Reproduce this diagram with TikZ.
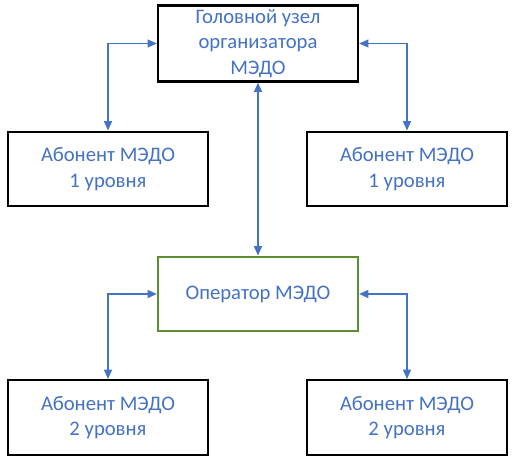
\documentclass[tikz,border=0pt]{standalone}
\usepackage{fontspec}
\setmainfont{Carlito}
\usetikzlibrary{arrows.meta}
\definecolor{txtblue}{HTML}{4472C4}
\definecolor{boxgreen}{HTML}{5E8E32}
\begin{document}
\begin{tikzpicture}[x=0.75pt,y=-0.75pt,
    box/.style={draw=black,line width=1.7pt,minimum width=150pt,minimum height=56pt,
      align=center,text=txtblue,font=\fontsize{15.5}{19}\selectfont,inner sep=0pt},
    link/.style={draw=txtblue,line width=1pt,{Triangle[length=7pt,width=6pt]}-{Triangle[length=7pt,width=6pt]}}]
         \useasboundingbox (0,0) rectangle (515,460) ;
         % main node and operator
         \node[box,minimum height=57pt] (head) at (258,43.5) {Головной узел\\организатора\\МЭДО} ;
         \node[box,draw=boxgreen] (oper) at (258,294) {Оператор МЭДО} ;
         % subscribers
         \node[box] (abonA) at (108,169) {Абонент МЭДО\\1 уровня} ;
         \node[box] (abonB) at (407,169) {Абонент МЭДО\\1 уровня} ;
         \node[box] (abonC) at (108,417.5) {Абонент МЭДО\\2 уровня} ;
         \node[box] (abonD) at (407,417.5) {Абонент МЭДО\\2 уровня} ;
         % links
         \draw[link] (abonA.north) |- (head.west) ;
         \draw[link] (abonB.north) |- (head.east) ;
         \draw[link] (head.south) -- (oper.north) ;
         \draw[link] (abonC.north) |- (oper.west) ;
         \draw[link] (abonD.north) |- (oper.east) ;
      \end{tikzpicture}
\end{document}
